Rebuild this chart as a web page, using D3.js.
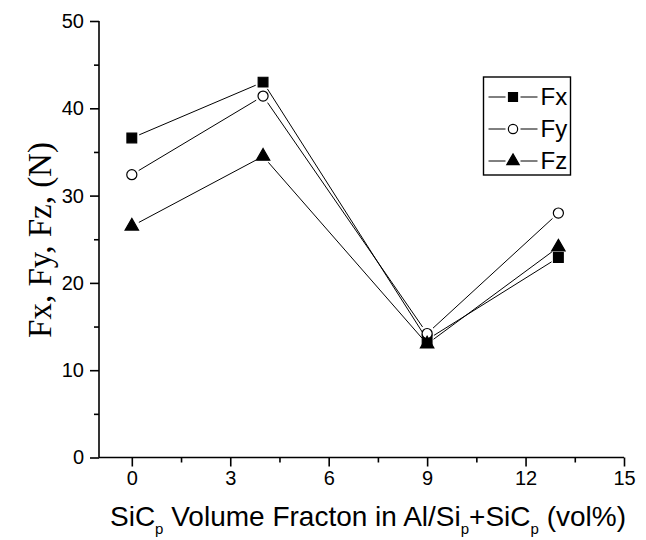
<!DOCTYPE html>
<html>
<head>
<meta charset="utf-8">
<script src="https://cdn.jsdelivr.net/npm/d3@7"></script>
<style>
  body { margin: 0; background: #fff; }
  svg { display: block; }
  .tick text { font-family: "Liberation Sans", Arial, sans-serif; font-size: 20px; fill: #000; }
</style>
</head>
<body>
<script>
// volume fraction of SiCp (vol%)
const fractions = [0, 4, 9, 13];
const fx = [36.6, 43.0, 13.5, 22.9];
const fy = [32.4, 41.4, 14.2, 28.0];
const fz = [26.5, 34.5, 13.0, 24.1];
const seriesNames = ["Fx", "Fy", "Fz"];
const xTicks = [0, 3, 6, 9, 12, 15];
const yTicks = [0, 10, 20, 30, 40, 50];

const width = 646, height = 540;
const marginLeft = 99, marginTop = 21, plotRight = 624, plotBottom = 457.5;

const x = d3.scaleLinear().domain([-1, 15]).range([marginLeft, plotRight]);
const y = d3.scaleLinear().domain([0, 50]).range([plotBottom, marginTop]);

const svg = d3.select("body").append("svg")
    .attr("width", width)
    .attr("height", height);

// axes (major + minor ticks)
const xAxis = svg.append("g")
    .attr("transform", `translate(0,${plotBottom})`)
    .call(d3.axisBottom(x).tickValues(xTicks).tickSize(9).tickSizeOuter(0).tickPadding(4));
svg.append("g")
    .attr("transform", `translate(0,${plotBottom})`)
    .call(d3.axisBottom(x).tickValues(d3.range(1.5, 15, 3)).tickSize(5).tickSizeOuter(0).tickFormat(""))
    .select(".domain").remove();

const yAxis = svg.append("g")
    .attr("transform", `translate(${marginLeft},0)`)
    .call(d3.axisLeft(y).tickValues(yTicks).tickSize(9).tickSizeOuter(0).tickPadding(6));
svg.append("g")
    .attr("transform", `translate(${marginLeft},0)`)
    .call(d3.axisLeft(y).tickValues(d3.range(5, 50, 10)).tickSize(5).tickSizeOuter(0).tickFormat(""))
    .select(".domain").remove();

svg.selectAll(".domain, .tick line").attr("stroke", "#000").attr("stroke-width", 1.6);
xAxis.select(".domain").attr("d", `M${marginLeft},0H${plotRight}`);
yAxis.select(".domain").attr("d", `M0,${plotBottom}V${marginTop}`);

// axis titles
const xTitle = svg.append("text")
    .attr("x", 368)
    .attr("y", 526)
    .attr("text-anchor", "middle")
    .attr("fill", "#000")
    .style("font-family", "Liberation Sans, Arial, sans-serif")
    .style("font-size", "28px");
const subDy = 8;
xTitle.append("tspan").text("SiC");
xTitle.append("tspan").attr("dy", subDy).style("font-size", "15px").text("p");
xTitle.append("tspan").attr("dy", -subDy).text(" Volume Fracton in Al/Si");
xTitle.append("tspan").attr("dy", subDy).style("font-size", "15px").text("p");
xTitle.append("tspan").attr("dy", -subDy).text("+SiC");
xTitle.append("tspan").attr("dy", subDy).style("font-size", "15px").text("p");
xTitle.append("tspan").attr("dy", -subDy).text(" (vol%)");

svg.append("text")
    .attr("transform", "translate(51,240) rotate(-90)")
    .attr("text-anchor", "middle")
    .attr("fill", "#000")
    .style("font-family", "Liberation Serif, 'Times New Roman', serif")
    .style("font-size", "33px")
    .text("Fx, Fy, Fz, (N)");

// markers
const symbols = {
    Fx: { type: d3.symbolSquare, size: 95, fill: "#000" },
    Fy: { type: d3.symbolCircle, size: 80, fill: "#fff" },
    Fz: { type: d3.symbolTriangle, size: 78, fill: "#000" }
};

const seriesData = [fx, fy, fz].map((vals, i) => ({
    name: seriesNames[i],
    points: fractions.map((f, j) => ({ x: f, y: vals[j] }))
}));

const gap = 8;
const linesGroup = svg.append("g");
seriesData.forEach(s => {
    d3.pairs(s.points).forEach(([a, b]) => {
        const x1 = x(a.x), y1 = y(a.y), x2 = x(b.x), y2 = y(b.y);
        const len = Math.hypot(x2 - x1, y2 - y1);
        const ux = (x2 - x1) / len, uy = (y2 - y1) / len;
        linesGroup.append("line")
            .attr("x1", x1 + ux * gap).attr("y1", y1 + uy * gap)
            .attr("x2", x2 - ux * gap).attr("y2", y2 - uy * gap)
            .attr("stroke", "#000")
            .attr("stroke-width", 1);
    });
});

const markersGroup = svg.append("g");
seriesData.forEach(s => {
    const sym = symbols[s.name];
    markersGroup.selectAll(null)
        .data(s.points)
        .join("path")
        .attr("transform", d => `translate(${x(d.x)},${y(d.y)})`)
        .attr("d", d3.symbol(sym.type, sym.size))
        .attr("fill", sym.fill)
        .attr("stroke", "#000")
        .attr("stroke-width", 1.2);
});

// legend
const legend = svg.append("g").attr("transform", "translate(483.5,77)");
legend.append("rect")
    .attr("width", 87)
    .attr("height", 98)
    .attr("fill", "#fff")
    .attr("stroke", "#000")
    .attr("stroke-width", 1.4);

seriesNames.forEach((name, i) => {
    const row = legend.append("g").attr("transform", `translate(0,${20 + i * 32})`);
    const sym = symbols[name];
    row.append("line").attr("x1", 5).attr("x2", 22).attr("y1", 0).attr("y2", 0).attr("stroke", "#000");
    row.append("line").attr("x1", 37).attr("x2", 54).attr("y1", 0).attr("y2", 0).attr("stroke", "#000");
    row.append("path")
        .attr("transform", "translate(29.5,0)")
        .attr("d", d3.symbol(sym.type, sym.size * 0.85))
        .attr("fill", sym.fill)
        .attr("stroke", "#000")
        .attr("stroke-width", 1.2);
    row.append("text")
        .attr("x", 57)
        .attr("y", 8)
        .attr("fill", "#000")
        .style("font-family", "Liberation Sans, Arial, sans-serif")
        .style("font-size", "24px")
        .text(name);
});
</script>
</body>
</html>
